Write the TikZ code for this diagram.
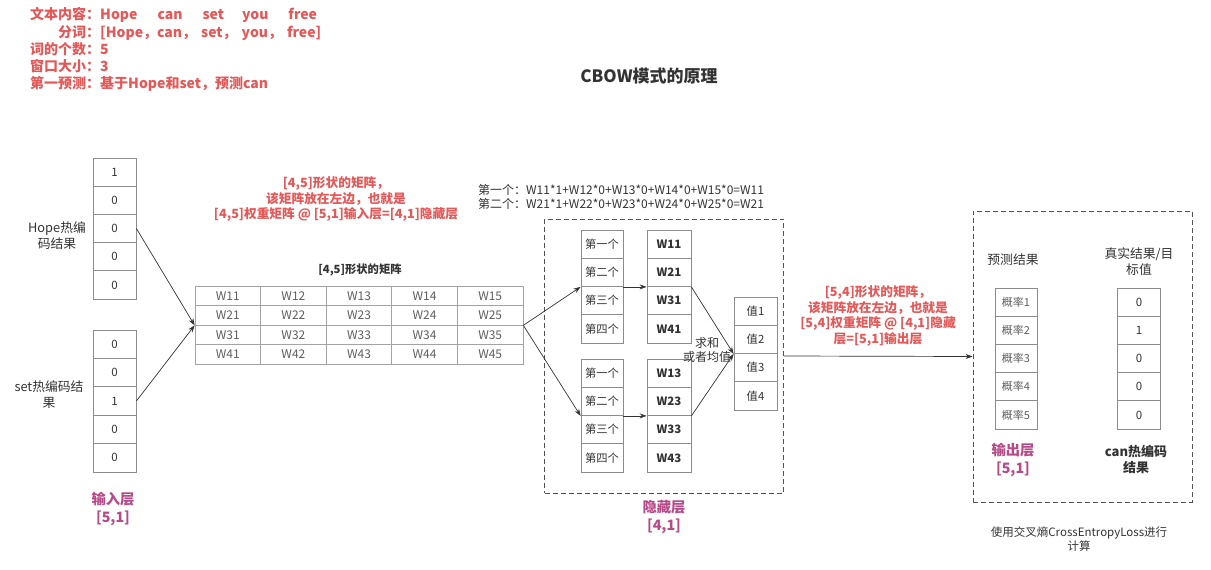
\documentclass[tikz,border=0pt]{standalone}
\usepackage{fontspec}
\setmainfont{Noto Sans CJK SC}
\usetikzlibrary{arrows.meta}
\definecolor{redtxt}{RGB}{228,88,88}
\definecolor{purp}{RGB}{182,74,136}
\definecolor{dark}{RGB}{51,51,51}
\definecolor{cellline}{RGB}{140,140,140}
\definecolor{wtxt}{RGB}{95,95,95}
\begin{document}
\begin{tikzpicture}[x=1pt,y=-1pt,
  cell/.style={draw=cellline, line width=0.8pt, minimum width=43pt, minimum height=28.3pt, inner sep=0pt, font=\fontsize{11.5}{13}\selectfont, text=dark},
  mcell/.style={draw=cellline!80, line width=0.7pt, minimum width=65.6pt, minimum height=19.5pt, inner sep=0pt, font=\fontsize{12}{13}\selectfont, text=wtxt},
  hcell/.style={draw=cellline, line width=0.8pt, minimum width=42pt, minimum height=28.25pt, inner sep=0pt, font=\fontsize{11.3}{13}\selectfont, text=dark},
  wcell/.style={hcell, minimum width=44pt, font=\bfseries\fontsize{11.5}{13}\selectfont},
  pcell/.style={hcell, minimum width=42pt, minimum height=28.2pt, font=\fontsize{11}{12}\selectfont, text=wtxt},
  arr/.style={-{Stealth[length=7pt,width=5pt]}, line width=0.7pt, draw=dark},
  dbox/.style={draw=dark!85, dash pattern=on 5pt off 3pt, line width=0.8pt, inner sep=0pt},
  redlbl/.style={text=redtxt, font=\bfseries\fontsize{12.7}{15.5}\selectfont, align=center},
  toplbl/.style={text=redtxt, font=\bfseries\fontsize{14}{17}\selectfont, anchor=west, inner sep=0pt},
  purlbl/.style={text=purp, font=\bfseries\fontsize{14.3}{17.5}\selectfont, align=center},
  dlbl/.style={text=dark, font=\fontsize{12.8}{16}\selectfont, align=center}
]
\useasboundingbox[fill=white] (0,0) rectangle (1211,570);

% top-left text
\node[toplbl] (t1) at (30,15) {文本内容：Hope\hspace{20pt}can\hspace{20pt}set\hspace{18pt}you\hspace{20pt}free};
\node[toplbl] (t2) at (58,33) {分词：[Hope，can，\hspace{5pt}set，\hspace{5pt}you，\hspace{5pt}free]};
\node[toplbl] (t3) at (30,49) {词的个数：5};
\node[toplbl] (t4) at (30,66) {窗口大小：3};
\node[toplbl] (t5) at (30,84) {第一预测：基于Hope和set，预测can};

% title
\node[text=dark, font=\bfseries\fontsize{17}{20}\selectfont] (title) at (649,76) {CBOW模式的原理};

% dashed boxes
\node[dbox, minimum width=239pt, minimum height=274pt] (hid) at (664,356) {};
\node[dbox, minimum width=219pt, minimum height=291pt] (out) at (1082.5,356.5) {};

% input vectors
\foreach \v [count=\i] in {1,0,0,0,0}
  \node[cell] (h\i) at (114.5,{158+28.2*(\i-0.5)}) {\v};
\foreach \v [count=\i] in {0,0,1,0,0}
  \node[cell] (s\i) at (114.5,{330+28.4*(\i-0.5)}) {\v};

\node[dlbl] (hopelbl) at (57,236) {Hope热编\\码结果};
\node[dlbl] (setlbl) at (49,395) {set热编码结\\果};
\node[purlbl] (inlbl) at (113,509) {输入层\\{[5,1]}};

% weight matrix
\foreach \r in {1,...,4}
  \foreach \c in {1,...,5}
    \node[mcell] (m\r\c) at ({195+65.6*(\c-0.5)},{286+19.5*(\r-0.5)}) {W\r\c};
\node[text=dark, font=\bfseries\fontsize{11.3}{13}\selectfont] (mlbl) at (360,270) {[4,5]形状的矩阵};

\node[redlbl] (note1) at (336,199) {[4,5]形状的矩阵，\\该矩阵放在左边，也就是\\{[4,5]}权重矩阵 @ [5,1]输入层=[4,1]隐藏层};

\node[text=dark, font=\fontsize{12}{14}\selectfont, align=left, anchor=west, inner sep=0pt] (formula) at (478,197)
  {第一个：W11*1+W12*0+W13*0+W14*0+W15*0=W11\\第二个：W21*1+W22*0+W23*0+W24*0+W25*0=W21};

% hidden layer
\foreach \t [count=\i] in {第一个,第二个,第三个,第四个}{
  \node[hcell] (a\i) at (602,{230+28.25*(\i-0.5)}) {\t};
  \node[hcell] (b\i) at (602,{359+28.25*(\i-0.5)}) {\t};
}
\foreach \i in {1,...,4}{
  \node[wcell] (wa\i) at (669,{230+28.25*(\i-0.5)}) {W\i1};
  \node[wcell] (wb\i) at (669,{359+28.25*(\i-0.5)}) {W\i3};
  \node[hcell, minimum width=43pt] (v\i) at (755.5,{297+28.25*(\i-0.5)}) {值\i};
}
\node[text=dark, font=\fontsize{12}{14.5}\selectfont, align=center, inner sep=0pt] (sumlbl) at (707,350) {求和\\或者均值};
\node[purlbl] (hidlbl) at (664,517) {隐藏层\\{[4,1]}};

% output
\node[redlbl] (note2) at (878,316) {[5,4]形状的矩阵，\\该矩阵放在左边，也就是\\{[5,4]}权重矩阵 @ [4,1]隐藏\\层=[5,1]输出层};
\foreach \i in {1,...,5}
  \node[pcell] (p\i) at (1016,{288+28.2*(\i-0.5)}) {概率\i};
\foreach \v [count=\i] in {0,1,0,0,0}
  \node[cell, minimum height=28.2pt] (tv\i) at (1139,{288+28.2*(\i-0.5)}) {\v};
\node[dlbl] (predlbl) at (1013,260) {预测结果};
\node[dlbl] (truelbl) at (1139,262) {真实结果/目\\标值};
\node[purlbl] (outlbl) at (1013,460) {输出层\\{[5,1]}};
\node[text=dark, font=\bfseries\fontsize{13}{16}\selectfont, align=center] (canlbl) at (1136,459) {can热编码\\结果};
\node[text=dark, font=\fontsize{11.5}{14}\selectfont, align=center] (losslbl) at (1079,539) {使用交叉熵CrossEntropyLoss进行\\计算};

% connectors
\draw[arr] (h3.east) -- (m21.south west);
\draw[arr] (s3.east) -- (m21.south west);
\draw[arr] (m25.south east) -- (a2.south west);
\draw[arr] (m25.south east) -- (b2.south west);
\draw[arr] (a2.south east) -- (wa2.south west);
\draw[arr] (b2.south east) -- (wb2.south west);
\draw[arr] (wa2.south east) -- (v2.south west);
\draw[arr] (wb2.south east) -- (v2.south west);
\draw[arr] (hid.east) -- (out.west);
\end{tikzpicture}
\end{document}
